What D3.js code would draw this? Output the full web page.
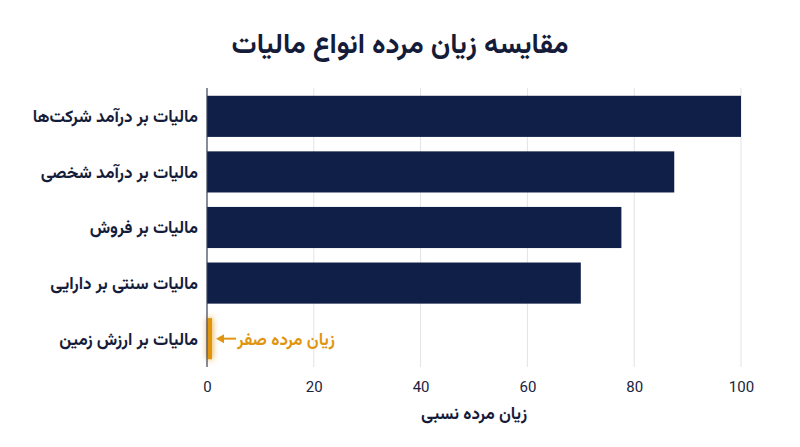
<!DOCTYPE html>
<html><head><meta charset="utf-8">
<script src="https://cdn.jsdelivr.net/npm/d3@7/dist/d3.min.js"></script>
<style>
body{margin:0;background:#fff;}
svg{display:block;}
.fa{font-family:Vazirmatn,"Noto Sans Arabic","DejaVu Sans",sans-serif;}
</style></head>
<body><svg id="c" width="800" height="447"></svg>
<script>
const categories = ["مالیات بر درآمد شرکت‌ها","مالیات بر درآمد شخصی","مالیات بر فروش","مالیات سنتی بر دارایی","مالیات بر ارزش زمین"];
const values = [100, 87.5, 77.6, 70, 0];
const xTicks = [0, 20, 40, 60, 80, 100];
const titleText = "مقایسه زیان مرده انواع مالیات";
const xLabel = "زیان مرده نسبی";
const annotation = "زیان مرده صفر";

const svg = d3.select("#c");
const m = {l:207, r:741, t:88, b:367};
const navy = "#0f1f47", orange = "#e0950f";

const x = d3.scaleLinear().domain([0,100]).range([m.l, m.r]);
const y = d3.scaleBand().domain(categories).range([m.t, m.b]).paddingInner(0.26).paddingOuter(0.14);

const defs = svg.append("defs");
const f = defs.append("filter").attr("id","glow").attr("x","-300%").attr("y","-50%").attr("width","700%").attr("height","200%");
f.append("feGaussianBlur").attr("stdDeviation",3).attr("result","b");
const mg = f.append("feMerge"); mg.append("feMergeNode").attr("in","b"); mg.append("feMergeNode").attr("in","SourceGraphic");

svg.append("text").attr("class","fa").attr("x",400).attr("y",53).attr("text-anchor","middle")
  .attr("font-size",28).attr("font-weight",700).attr("fill","#141c3a").text(titleText);

// grid
svg.append("g").selectAll("line").data(xTicks.filter(d=>d>0)).join("line")
  .attr("x1",d=>x(d)).attr("x2",d=>x(d)).attr("y1",m.t).attr("y2",m.b)
  .attr("stroke","#e3e3e6").attr("stroke-width",1);

// bars
svg.append("g").selectAll("rect").data(values).join("rect")
  .attr("x",x(0)).attr("y",(d,i)=>y(categories[i])).attr("width",d=>x(d)-x(0))
  .attr("height",y.bandwidth()).attr("fill",navy);

// zero highlight
const zi = values.indexOf(0);
svg.append("rect").attr("x",x(0)+0.5).attr("y",y(categories[zi])).attr("width",4.5).attr("height",y.bandwidth())
  .attr("fill",orange).attr("filter","url(#glow)");

// y axis line
svg.append("line").attr("x1",x(0)).attr("x2",x(0)).attr("y1",m.t).attr("y2",m.b).attr("stroke","#3a3f55").attr("stroke-width",1.2);

// x axis labels
const xa = svg.append("g").attr("transform",`translate(0,${m.b})`)
  .call(d3.axisBottom(x).tickValues(xTicks).tickSize(0).tickPadding(14));
xa.select(".domain").remove();
xa.selectAll("text").attr("font-family","Roboto,Inter,sans-serif").attr("font-size",15).attr("fill","#1a2340");

// category labels
svg.append("g").selectAll("text").data(categories).join("text").attr("class","fa")
  .attr("x",198).attr("y",d=>y(d)+y.bandwidth()/2).attr("dy","0.35em").attr("text-anchor","end")
  .attr("font-size",17).attr("font-weight",700).attr("fill","#141c3a").text(d=>d);

svg.append("text").attr("class","fa").attr("x",(m.l+m.r)/2).attr("y",419).attr("text-anchor","middle")
  .attr("font-size",17).attr("font-weight",700).attr("fill","#141c3a").text(xLabel);

// annotation
const ay = y(categories[zi]) + y.bandwidth()/2;
svg.append("text").attr("class","fa").attr("x",335).attr("y",ay).attr("dy","0.35em").attr("text-anchor","end")
  .attr("font-size",17).attr("font-weight",700).attr("fill",orange).text(annotation);
svg.append("line").attr("x1",236).attr("x2",222).attr("y1",ay).attr("y2",ay).attr("stroke",orange).attr("stroke-width",2);
svg.append("path").attr("d",`M216,${ay} L224,${ay-4.5} L224,${ay+4.5} Z`).attr("fill",orange);
</script></body></html>
